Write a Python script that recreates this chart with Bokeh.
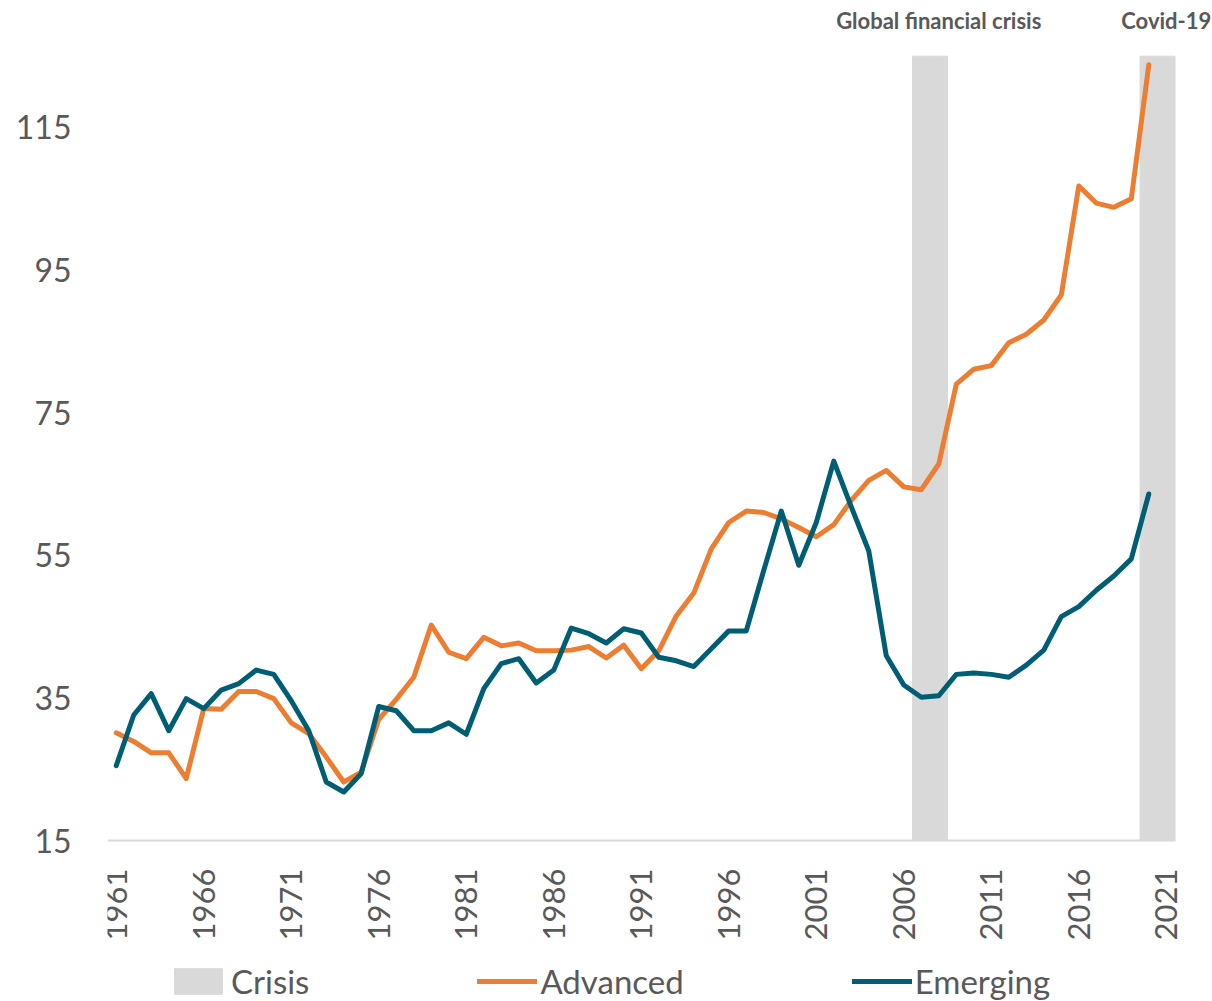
from bokeh.plotting import figure
from bokeh.models import (ColumnDataSource, FixedTicker, Legend, LegendItem,
                          LabelSet)
from bokeh.core.properties import value
from bokeh.embed import file_html
from bokeh.resources import INLINE

# ---------------- data ----------------
years = list(range(1961, 2021))
advanced = [30.1, 28.9, 27.3, 27.3, 23.7, 33.5, 33.4, 35.9, 35.9, 34.9,
            31.5, 30.0, 26.7, 23.2, 24.6, 32.0, 34.8, 37.9, 45.2, 41.4,
            40.5, 43.5, 42.3, 42.7, 41.6, 41.6, 41.7, 42.2, 40.6, 42.4,
            39.1, 41.6, 46.5, 49.7, 55.9, 59.6, 61.2, 61.0, 60.1, 58.9,
            57.6, 59.3, 62.7, 65.5, 66.9, 64.6, 64.2, 67.8, 79.0, 81.1,
            81.6, 84.8, 86.0, 88.0, 91.5, 106.8, 104.4, 103.8, 105.0, 123.8]
emerging = [25.5, 32.6, 35.6, 30.4, 34.9, 33.5, 36.1, 37.0, 38.9, 38.3,
            34.6, 30.4, 23.2, 21.8, 24.4, 33.8, 33.2, 30.4, 30.4, 31.5,
            29.9, 36.3, 39.8, 40.5, 37.1, 38.9, 44.8, 44.0, 42.7, 44.7,
            44.1, 40.7, 40.2, 39.4, 41.9, 44.4, 44.4, 52.9, 61.2, 53.6,
            59.6, 68.2, 61.8, 55.6, 40.9, 36.8, 35.1, 35.3, 38.3, 38.5,
            38.3, 37.9, 39.6, 41.7, 46.4, 47.8, 50.1, 52.1, 54.5, 63.6]
crisis_years = [2007, 2008, 2020, 2021]
crisis_values = [125, 125, 125, 125]
crisis_label_years = [2008, 2021]
crisis_labels = ["Global financial crisis", "Covid-19"]
x_tick_years = [1961, 1966, 1971, 1976, 1981, 1986, 1991, 1996, 2001, 2006, 2011, 2016, 2021]
y_ticks = [15, 35, 55, 75, 95, 115]

ORANGE = "#ED7D31"
TEAL = "#005E74"
GREY = "#D9D9D9"
TXT = "#595959"
FONT = "Lato"

# the frame is stretched to the page edges so that the labels above the
# plot and the legend below the axis are not clipped; the axis is pinned at 15
p = figure(width=1212, height=1001, x_range=(1960.5, 2023.64), y_range=(-7.58, 132.81),
           output_backend="svg", toolbar_location=None,
           min_border_left=107, min_border_right=0, min_border_top=0,
           min_border_bottom=0)

crisis = p.vbar(x=crisis_years, top=crisis_values, bottom=15, width=1.0,
                fill_color=GREY, line_color=GREY, line_width=1)
adv = p.line(years, advanced, line_color=ORANGE, line_width=5,
             line_join="round", line_cap="round")
emg = p.line(years, emerging, line_color=TEAL, line_width=5,
             line_join="round", line_cap="round")

lab_src = ColumnDataSource(dict(x=crisis_label_years,
                                y=[973] * len(crisis_labels),
                                text=crisis_labels))
p.add_layout(LabelSet(x="x", y="y", y_units="screen", text="text", source=lab_src,
                      text_align="center", text_baseline="alphabetic",
                      text_font=value(FONT), text_font_style="bold",
                      text_font_size=value("22px"), text_color=TXT))

p.xgrid.visible = False
p.ygrid.visible = False
p.outline_line_color = None
p.background_fill_color = "white"
p.border_fill_color = "white"

xa = p.xaxis[0]
xa.fixed_location = 15
xa.bounds = (1960.5, 2021.5)
xa.ticker = FixedTicker(ticks=x_tick_years)
xa.major_label_overrides = {y: str(y) for y in x_tick_years}
xa.major_label_orientation = 1.5707963267948966
xa.major_tick_line_color = None
xa.minor_tick_line_color = None
xa.axis_line_color = GREY
xa.axis_line_width = 2
xa.major_label_standoff = 22
xa.major_label_text_font = FONT
xa.major_label_text_font_size = "31px"
xa.major_label_text_color = TXT

ya = p.yaxis[0]
ya.ticker = FixedTicker(ticks=y_ticks)
ya.major_tick_line_color = None
ya.minor_tick_line_color = None
ya.axis_line_color = None
ya.major_label_standoff = 30
ya.major_label_text_font = FONT
ya.major_label_text_font_size = "32px"
ya.major_label_text_color = TXT

legend = Legend(items=[LegendItem(label="Crisis", renderers=[crisis]),
                       LegendItem(label="Advanced", renderers=[adv]),
                       LegendItem(label="Emerging", renderers=[emg])],
                orientation="horizontal", location=(61, 0),
                glyph_width=60, glyph_height=32, label_standoff=3,
                spacing=168, padding=0, margin=0,
                border_line_color=None, background_fill_alpha=0,
                label_text_font=FONT, label_text_font_size="33px",
                label_text_color=TXT)
p.add_layout(legend, "center")

open("out.html", "w").write(file_html(p, INLINE))
